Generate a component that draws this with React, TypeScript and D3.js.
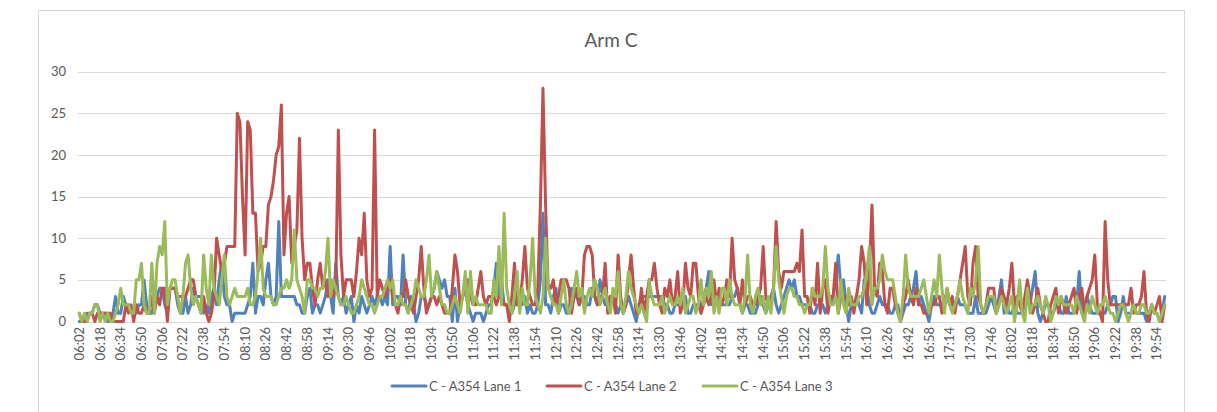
import React from "react";
import * as d3 from "d3";

const TITLE = "Arm C";
const SERIES_NAMES = ["C - A354 Lane 1", "C - A354 Lane 2", "C - A354 Lane 3"];
const COLORS = ["#4F81BD", "#C0504D", "#9BBB59"];
const Y_TICKS = [0, 5, 10, 15, 20, 25, 30];

// categories: 2-minute intervals from 06:02 to 20:00
const START_MIN = 6 * 60 + 2;
const STEP_MIN = 2;
const N_CAT = 420;
const CATEGORIES: string[] = d3.range(N_CAT).map((i) => {
  const m = START_MIN + STEP_MIN * i;
  return `${String(Math.floor(m / 60)).padStart(2, "0")}:${String(m % 60).padStart(2, "0")}`;
});
const TICK_EVERY = 8;

const LANE1 = [
  0,0,0,1,1,1,2,2, 1,1,1,0,0,1,3,1, 1,3,2,2,1,1,1,2, 2,5,2,1,1,2,3,4,
  4,2,1,4,4,4,2,1, 1,3,1,2,4,3,3,3, 1,2,1,3,4,2,5,7, 3,2,2,0,1,1,1,1,
  1,2,3,7,1,3,3,2, 5,7,3,2,3,12,3,3, 3,3,3,3,2,2,1,1, 3,4,1,2,2,1,2,3,
  5,3,1,7,3,2,3,1, 2,3,0,2,1,3,2,1, 2,3,2,3,3,2,3,2, 9,2,3,3,2,8,2,1,
  3,2,0,1,3,3,2,2, 3,4,6,5,4,5,3,3, 0,4,0,2,3,4,2,1, 0,1,1,1,0,1,2,2,
  4,7,3,5,2,2,1,1, 2,4,2,2,3,1,2,1, 1,2,5,13,2,2,1,3, 4,1,2,2,1,1,4,3,
  3,2,3,3,2,2,4,3, 2,5,3,2,2,3,3,2, 1,2,1,2,3,2,1,0, 2,3,3,3,3,3,3,3,
  3,3,2,2,1,1,2,2, 2,3,3,1,1,2,2,2, 1,3,4,6,2,3,3,2, 2,2,2,2,3,3,4,2,
  1,2,2,1,1,1,2,3, 2,1,2,3,4,2,1,2, 3,4,5,4,5,3,3,2, 2,2,2,1,1,2,2,2,
  1,2,2,3,5,8,4,5, 2,0,2,2,3,2,1,5, 4,2,1,1,2,3,2,2, 2,1,1,2,2,0,1,2,
  2,3,4,6,2,3,2,1, 0,2,3,2,2,2,3,3, 2,2,2,3,2,2,2,1, 1,1,3,1,1,1,1,2,
  3,2,1,3,5,1,2,1, 1,2,1,1,1,2,3,2, 4,6,1,0,1,2,2,1, 1,2,2,1,1,3,1,1,
  1,2,6,1,2,3,2,1, 1,1,1,1,1,2,2,3, 3,0,1,3,1,1,1,2, 1,1,1,1,0,1,2,1,
  1,0,1,3,
];

const LANE2 = [
  1,0,0,0,1,1,0,1, 1,1,1,1,1,0,0,0, 0,0,2,1,2,0,2,1, 1,2,1,1,3,1,3,2,
  4,4,0,4,4,4,3,3, 3,3,4,5,5,3,2,1, 3,1,0,1,3,10,8,6, 7,9,9,9,9,25,24,15,
  8,24,23,13,13,6,7,9, 9,14,15,17,20,21,26,8, 13,15,7,9,11,22,10,5, 7,7,4,2,5,7,4,5,
  3,5,3,4,23,8,3,5, 5,5,3,6,10,8,13,5, 3,4,23,3,5,4,3,4, 5,3,2,1,3,3,5,3,
  2,1,3,5,9,4,1,2, 3,3,2,3,2,1,1,1, 4,8,6,2,3,4,5,3, 2,2,4,6,3,2,3,3,
  3,2,3,3,2,2,0,3, 7,2,2,5,9,4,3,2, 2,4,14,28,14,4,4,5, 2,3,5,5,5,4,1,3,
  4,2,3,8,9,9,8,3, 2,3,3,7,1,3,3,1, 8,3,1,2,5,8,4,1, 1,4,1,3,5,5,7,4,
  2,1,4,3,5,2,3,6, 1,2,7,4,3,7,7,3, 1,2,3,2,3,5,2,4, 2,3,5,3,10,5,4,2,
  5,2,3,3,2,2,3,4, 9,3,2,2,4,12,6,4, 6,6,6,6,6,7,6,11, 3,3,1,4,2,7,1,4,
  5,1,3,3,7,1,3,3, 3,2,3,1,3,5,9,7, 2,6,14,4,3,7,6,2, 1,4,4,2,1,0,2,3,
  5,3,2,4,2,2,1,1, 1,2,2,3,3,1,2,4, 2,3,1,3,5,7,9,3, 2,7,9,3,2,1,2,4,
  4,4,1,2,4,3,2,4, 7,2,3,2,1,3,5,3, 1,2,4,2,1,0,0,2, 3,4,1,3,2,1,2,3,
  4,1,3,4,1,3,4,5, 8,2,1,0,12,5,2,2, 2,2,2,2,2,2,4,1, 2,2,3,6,1,0,2,1,
  2,3,0,2,
];

const LANE3 = [
  1,0,1,0,1,1,2,2, 0,1,0,1,0,0,1,2, 4,2,2,2,1,1,5,5, 7,2,1,1,7,1,7,9,
  8,12,2,4,5,5,3,1, 3,7,8,4,2,3,2,1, 8,4,2,8,4,3,2,5, 8,3,2,3,4,3,3,3,
  3,4,2,2,3,6,10,4, 3,3,3,2,2,3,4,4, 5,4,5,11,5,4,3,1, 5,5,4,4,3,4,4,6,
  10,3,5,4,3,2,2,3, 2,1,1,2,3,5,4,3, 2,2,1,2,3,3,4,5, 4,5,2,2,3,2,2,1,
  2,3,5,4,3,3,5,8, 3,4,6,4,2,2,1,1, 2,3,2,1,3,6,1,6, 2,3,2,2,2,2,1,1,
  5,3,9,2,13,4,2,1, 3,6,1,4,2,2,5,10, 3,2,1,3,10,4,3,2, 2,1,3,5,2,1,2,4,
  6,3,4,1,3,4,3,5, 4,2,3,4,2,1,4,3, 6,2,1,3,6,4,3,2, 1,2,1,0,5,3,2,2,
  2,3,1,2,3,2,2,3, 2,4,1,2,3,3,1,2, 5,2,4,3,6,1,3,1, 4,4,2,5,3,2,2,2,
  1,3,8,2,1,3,4,2, 3,1,3,1,4,9,5,3, 1,3,4,4,3,3,2,2, 1,2,2,4,3,3,3,4,
  9,4,2,2,3,1,5,2, 1,4,2,2,2,3,3,4, 6,9,2,4,4,5,8,6, 5,5,5,3,1,0,3,8,
  4,3,3,3,3,4,5,3, 1,3,5,3,8,4,1,4, 2,1,2,3,5,3,2,1, 4,3,5,9,2,1,2,3,
  3,3,1,2,3,2,1,2, 3,0,2,5,1,0,4,1, 2,2,3,2,1,3,2,0, 1,3,2,3,2,2,2,2,
  1,3,2,1,0,2,1,3, 2,1,2,2,3,2,1,1, 0,1,2,2,1,0,1,2, 1,1,2,2,1,1,2,1,
  1,0,1,2,
];

const SERIES = [LANE1, LANE2, LANE3];

const W = 1217;
const H = 412;
const FONT = "Lato, 'Open Sans', 'Liberation Sans', sans-serif";
const TEXT_COLOR = "#595959";

export default function App() {
  const margin = { left: 78, right: 1166, top: 71.7, bottom: 321.5 };
  const x = d3
    .scalePoint<string>()
    .domain(CATEGORIES)
    .range([margin.left, margin.right])
    .padding(0.5);
  const y = d3.scaleLinear().domain([0, 30]).range([margin.bottom, margin.top]);

  const line = d3
    .line<number>()
    .x((_, i) => x(CATEGORIES[i]) as number)
    .y((d) => y(d));

  const tickCats = CATEGORIES.filter((_, i) => i % TICK_EVERY === 0);

  const legendItems = [
    { x: 392, textX: 429 },
    { x: 547, textX: 584 },
    { x: 703, textX: 740 },
  ];

  return (
    <div style={{ position: "fixed", left: 0, top: 0, width: W, height: H, background: "#fff" }}>
      <svg width={W} height={H} style={{ display: "block" }}>
        <rect x={0} y={0} width={W} height={H} fill="#fff" />
        <rect x={38.5} y={10.5} width={1146} height={450} fill="#fff" stroke="#D9D9D9" strokeWidth={1} />
        <text
          x={611}
          y={47}
          textAnchor="middle"
          fontFamily={FONT}
          fontSize={19}
          fill={TEXT_COLOR}
        >
          {TITLE}
        </text>
        {Y_TICKS.map((t) => (
          <g key={t}>
            <line
              x1={margin.left}
              x2={margin.right}
              y1={Math.round(y(t)) + 0.5}
              y2={Math.round(y(t)) + 0.5}
              stroke="#D9D9D9"
              strokeWidth={1}
            />
            <text
              x={66}
              y={y(t)}
              dy="0.35em"
              textAnchor="end"
              fontFamily={FONT}
              fontSize={13}
              fill={TEXT_COLOR}
            >
              {t}
            </text>
          </g>
        ))}
        {tickCats.map((c) => (
          <text
            key={c}
            transform={`translate(${x(c)},${327}) rotate(-90)`}
            dy="0.35em"
            textAnchor="end"
            fontFamily={FONT}
            fontSize={13}
            fill={TEXT_COLOR}
          >
            {c}
          </text>
        ))}
        {SERIES.map((s, k) => (
          <path
            key={k}
            d={line(s) || ""}
            fill="none"
            stroke={COLORS[k]}
            strokeWidth={3}
            strokeLinejoin="round"
            strokeLinecap="round"
          />
        ))}
        {legendItems.map((it, k) => (
          <g key={k}>
            <line
              x1={it.x}
              x2={it.x + 34}
              y1={386}
              y2={386}
              stroke={COLORS[k]}
              strokeWidth={3}
              strokeLinecap="round"
            />
            <text
              x={it.textX}
              y={386}
              dy="0.35em"
              fontFamily={FONT}
              fontSize={13}
              fill={TEXT_COLOR}
            >
              {SERIES_NAMES[k]}
            </text>
          </g>
        ))}
      </svg>
    </div>
  );
}
